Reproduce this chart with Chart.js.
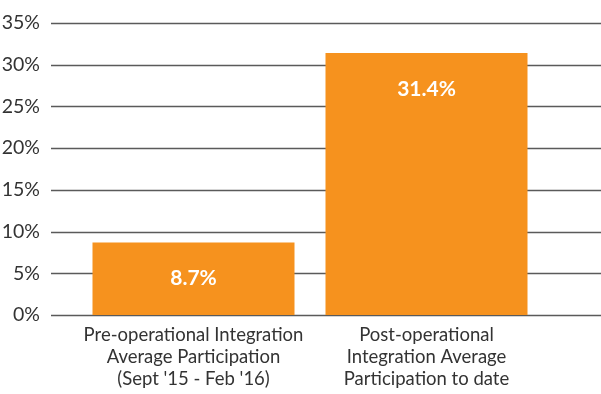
<!DOCTYPE html>
<html>
<head>
<meta charset="utf-8">
<script src="https://cdn.jsdelivr.net/npm/chart.js@4"></script>
<style>
    html, body { margin: 0; padding: 0; background: #fff; }
    #wrap { position: relative; width: 601px; height: 394px; }
</style>
</head>
<body>
<div id="wrap"><canvas id="chartParticipacion"></canvas></div>
<script>
// ── Datos ────────────────────────────────────────────────────────────────────
const categorias = [
    ['Pre-operational Integration', 'Average Participation', "(Sept '15 - Feb '16)"],
    ['Post-operational', 'Integration Average', 'Participation to date']
];
const participacion = [8.7, 31.4];
const yTicks = [0, 5, 10, 15, 20, 25, 30, 35];

const NARANJA = '#f6921e';
const FUENTE  = 'Lato, "Open Sans", sans-serif';

// ── Plugins ──────────────────────────────────────────────────────────────────
// líneas horizontales a todo lo ancho (el original las extiende fuera del área)
const gridAncho = {
    id: 'gridAncho',
    beforeDatasetsDraw(chart) {
        const { ctx, scales: { y } } = chart;
        ctx.save();
        ctx.strokeStyle = '#5a5a5a';
        ctx.lineWidth = 1.3;
        yTicks.forEach(v => {
            const py = Math.round(y.getPixelForValue(v)) + 0.5;
            ctx.beginPath();
            ctx.moveTo(51, py);
            ctx.lineTo(chart.width, py);
            ctx.stroke();
        });
        ctx.restore();
    }
};

// etiqueta blanca dentro de cada barra
const etiquetas = {
    id: 'etiquetas',
    afterDatasetsDraw(chart) {
        const { ctx } = chart;
        const meta = chart.getDatasetMeta(0);
        ctx.save();
        ctx.fillStyle = '#fff';
        ctx.font = 'bold 21px ' + FUENTE;
        ctx.textAlign = 'center';
        ctx.textBaseline = 'middle';
        meta.data.forEach((bar, i) => {
            ctx.fillText(participacion[i] + '%', bar.x, bar.y + 36);
        });
        ctx.restore();
    }
};

// ── Gráfico ──────────────────────────────────────────────────────────────────
const ctx = document.getElementById('chartParticipacion').getContext('2d');
new Chart(ctx, {
    type: 'bar',
    data: {
        labels: categorias,
        datasets: [{
            data: participacion,
            backgroundColor: NARANJA,
            borderWidth: 0,
            barPercentage: 1,
            categoryPercentage: 0.867
        }]
    },
    options: {
        responsive: true,
        maintainAspectRatio: false,
        animation: false,
        layout: { padding: { top: 23, right: 58, left: 0, bottom: 0 } },
        plugins: { legend: { display: false }, tooltip: { enabled: false } },
        scales: {
            x: {
                grid: { display: false, drawTicks: false },
                border: { display: false },
                ticks: {
                    color: '#333',
                    font: { family: FUENTE, size: 18.5, lineHeight: 1.2 },
                    padding: 9,
                    maxRotation: 0,
                    autoSkip: false
                },
                afterFit(scale) { scale.height = 79; }
            },
            y: {
                min: 0,
                max: 35,
                grid: { display: false, drawTicks: false },
                border: { display: false },
                ticks: {
                    stepSize: 5,
                    color: '#333',
                    font: { family: FUENTE, size: 19.5 },
                    padding: 37,
                    callback: v => v + '%'
                },
                afterFit(scale) {
                    scale.width = 77;
                    // el padding de las marcas no debe empujar el área hacia abajo
                    scale.paddingTop = 0;
                    scale.paddingBottom = 0;
                }
            }
        }
    },
    plugins: [gridAncho, etiquetas]
});
</script>
</body>
</html>
